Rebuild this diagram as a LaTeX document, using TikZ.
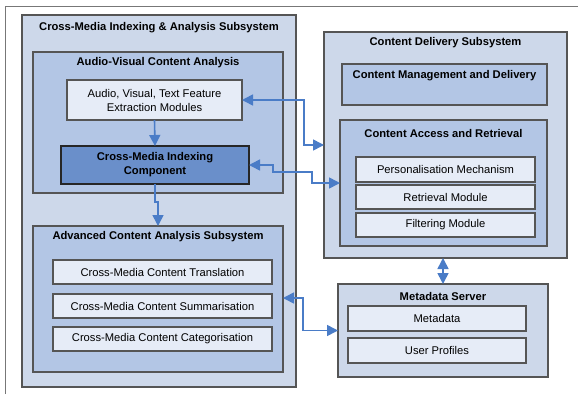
\documentclass[tikz,border=0pt]{standalone}
\usepackage{fontspec}
\setmainfont{Liberation Sans}
\usetikzlibrary{arrows.meta,shadows}
\definecolor{outerfill}{HTML}{CDD8EA}
\definecolor{midfill}{HTML}{B3C6E5}
\definecolor{modfill}{HTML}{E6ECF7}
\definecolor{corefill}{HTML}{6A8FCA}
\definecolor{edge}{HTML}{555555}
\definecolor{link}{HTML}{4A7CC7}
\tikzset{
  box/.style={draw=edge, line width=1.1pt, inner sep=0pt, outer sep=0pt,
    drop shadow={shadow xshift=1.2pt, shadow yshift=-1.2pt, opacity=.25}},
  outerbox/.style={box, fill=outerfill},
  midbox/.style={box, fill=midfill},
  modbox/.style={box, fill=modfill, font=\fontsize{11.2}{14}\selectfont, align=center},
  corebox/.style={box, fill=corefill, draw=black!85, line width=1.6pt,
    font=\bfseries\fontsize{11.2}{14}\selectfont, align=center},
  heading/.style={font=\bfseries\fontsize{11.2}{14}\selectfont, inner sep=0pt},
  link/.style={draw=link, line width=1.6pt,
    -{Triangle[length=11pt,width=11pt]}},
  duplex/.style={draw=link, line width=1.6pt,
    {Triangle[length=11pt,width=11pt]}-{Triangle[length=11pt,width=11pt]}},
}
\begin{document}
\begin{tikzpicture}[x=1pt,y=-1pt]
\useasboundingbox (0,0) rectangle (578,394);
% page frame
\draw[edge!80, line width=1pt] (5,394) -- (5,6.5) -- (578,6.5);

% Cross-media indexing & analysis subsystem
\node[outerbox, minimum width=274pt, minimum height=372pt] (cmia) at (159,201) {};
\node[heading] (cmiat) at (159,28) {Cross-Media Indexing \& Analysis Subsystem};

\node[midbox, minimum width=250pt, minimum height=141pt] (avca) at (158,122.5) {};
\node[heading] (avcat) at (158,63) {Audio-Visual Content Analysis};
\node[modbox, minimum width=175pt, minimum height=40pt] (extr) at (154.5,100)
  {Audio, Visual, Text Feature\\Extraction Modules};
\node[corebox, minimum width=188pt, minimum height=38pt] (cmic) at (155,165)
  {Cross-Media Indexing\\Component};

\node[midbox, minimum width=250pt, minimum height=146pt] (acas) at (158,299) {};
\node[heading] (acast) at (158,237) {Advanced Content Analysis Subsystem};
\node[modbox, minimum width=219pt, minimum height=24pt] (trans) at (162.5,272)
  {Cross-Media Content Translation};
\node[modbox, minimum width=219pt, minimum height=24pt] (summ) at (162.5,306)
  {Cross-Media Content Summarisation};
\node[modbox, minimum width=219pt, minimum height=24pt] (categ) at (162.5,339)
  {Cross-Media Content Categorisation};

% Content delivery subsystem
\node[outerbox, minimum width=243pt, minimum height=226pt] (cds) at (445.5,145) {};
\node[heading] (cdst) at (445.5,43) {Content Delivery Subsystem};
\node[midbox, minimum width=205pt, minimum height=41pt] (cmd) at (444.5,84.5) {};
\node[heading] (cmdt) at (444.5,76) {Content Management and Delivery};
\node[midbox, minimum width=207pt, minimum height=126pt] (car) at (443.5,183) {};
\node[heading] (cart) at (443.5,133) {Content Access and Retrieval};
\node[modbox, minimum width=179pt, minimum height=25pt] (pers) at (445.5,169.5)
  {Personalisation Mechanism};
\node[modbox, minimum width=179pt, minimum height=24pt] (retr) at (445.5,197)
  {Retrieval Module};
\node[modbox, minimum width=179pt, minimum height=24pt] (filt) at (445.5,225)
  {Filtering Module};

% Metadata server
\node[outerbox, minimum width=210pt, minimum height=93pt] (ms) at (443,330.5) {};
\node[heading] (mst) at (443,296) {Metadata Server};
\node[modbox, minimum width=178pt, minimum height=25pt] (meta) at (437,318.5)
  {Metadata};
\node[modbox, minimum width=178pt, minimum height=25pt] (prof) at (437,350.5)
  {User Profiles};

% connectors
\draw[link] (extr.south) -- (cmic.north);
\draw[link] (cmic.south) -- ++(0,18) -| (acas.north);
\draw[duplex] (extr.east) -- (304,100) -- (304,145) -- (cds.west);
\draw[duplex] (cmic.east) -- (273,165) -- (273,172) -- (312,172) -- (312,183) -- (car.west);
\draw[duplex] (cds.south -| ms.north) -- (ms.north);
\draw[duplex] (acas.east |- 0,298) -- (303,298) -- (303,330.5) -- (ms.west);
\end{tikzpicture}
\end{document}
